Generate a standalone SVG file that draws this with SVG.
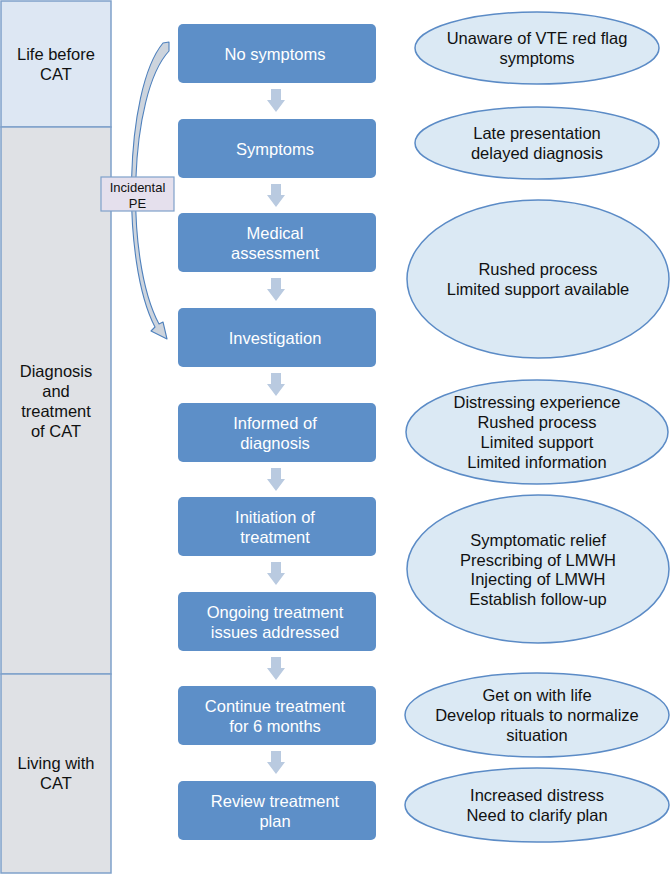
<svg xmlns="http://www.w3.org/2000/svg" width="672" height="879" viewBox="0 0 672 879">
<style>
.lane{stroke:#7fa1ca;stroke-width:1.5}
.lane1{fill:#dde7f3}
.lane2{fill:#dfe1e5}
.lt{font-family:"Liberation Sans",Arial,sans-serif;font-size:16.5px;fill:#111;text-anchor:middle}
.box{fill:#5d8fc8}
.bt{font-family:"Liberation Sans",Arial,sans-serif;font-size:16.5px;fill:#fff;text-anchor:middle}
.ell{fill:#dbe9f4;stroke:#5b8bc6;stroke-width:1.5}
.et{font-family:"Liberation Sans",Arial,sans-serif;font-size:16.5px;fill:#111;text-anchor:middle}
.blk{fill:#b9cae0}
.curve{fill:#cdd4dd;stroke:#4f81bd;stroke-width:1.1;stroke-linejoin:round}
.lbl{fill:#e5e0ed;stroke:#7fa1ca;stroke-width:1.2}
.lblt{font-family:"Liberation Sans",Arial,sans-serif;font-size:13px;fill:#111;text-anchor:middle}
</style>
<defs>
<path id="down" d="M -5,0 H 5 V 11 H 9 L 0,23 L -9,11 H -5 Z"/>
</defs>

<g id="lanes">
<g id="lane-life-before">
<rect class="lane lane1" x="1" y="1" width="110" height="126"/>
<text class="lt" x="56" y="60">Life before</text>
<text class="lt" x="56" y="80">CAT</text>
</g>
<g id="lane-diagnosis">
<rect class="lane lane2" x="1" y="127" width="110" height="547"/>
<text class="lt" x="56" y="377">Diagnosis</text>
<text class="lt" x="56" y="397">and</text>
<text class="lt" x="56" y="417">treatment</text>
<text class="lt" x="56" y="437">of CAT</text>
</g>
<g id="lane-living">
<rect class="lane lane2" x="1" y="674" width="110" height="199"/>
<text class="lt" x="56" y="769">Living with</text>
<text class="lt" x="56" y="789">CAT</text>
</g>
</g>

<g id="connectors">
<use href="#down" class="blk" x="276" y="89"/>
<use href="#down" class="blk" x="276" y="184"/>
<use href="#down" class="blk" x="276" y="278"/>
<use href="#down" class="blk" x="276" y="373"/>
<use href="#down" class="blk" x="276" y="468"/>
<use href="#down" class="blk" x="276" y="562"/>
<use href="#down" class="blk" x="276" y="657"/>
<use href="#down" class="blk" x="276" y="751"/>
<path class="curve" d="M 163,43 L 169,42 L 169,51 C 129,94 124,258 159,324 L 163,322 L 167,339 L 151,331 L 155,327 C 121,262 124,90 163,43 Z"/>
</g>

<g id="incidental-pe">
<rect class="lbl" x="101" y="177" width="73" height="34"/>
<text class="lblt" x="137.5" y="192">Incidental</text>
<text class="lblt" x="137.5" y="207.5">PE</text>
</g>

<g id="steps">
<g id="step-no-symptoms"><rect class="box" x="178" y="24" width="198" height="59" rx="5"/><text class="bt" x="275" y="59.5">No symptoms</text></g>
<g id="step-symptoms"><rect class="box" x="178" y="119" width="198" height="59" rx="5"/><text class="bt" x="275" y="154.5">Symptoms</text></g>
<g id="step-medical"><rect class="box" x="178" y="213" width="198" height="59" rx="5"/><text class="bt" x="275" y="238.5">Medical</text><text class="bt" x="275" y="258.5">assessment</text></g>
<g id="step-investigation"><rect class="box" x="178" y="308" width="198" height="59" rx="5"/><text class="bt" x="275" y="343.5">Investigation</text></g>
<g id="step-informed"><rect class="box" x="178" y="403" width="198" height="59" rx="5"/><text class="bt" x="275" y="428.5">Informed of</text><text class="bt" x="275" y="448.5">diagnosis</text></g>
<g id="step-initiation"><rect class="box" x="178" y="497" width="198" height="59" rx="5"/><text class="bt" x="275" y="522.5">Initiation of</text><text class="bt" x="275" y="542.5">treatment</text></g>
<g id="step-ongoing"><rect class="box" x="178" y="592" width="198" height="59" rx="5"/><text class="bt" x="275" y="617.5">Ongoing treatment</text><text class="bt" x="275" y="637.5">issues addressed</text></g>
<g id="step-continue"><rect class="box" x="178" y="686" width="198" height="59" rx="5"/><text class="bt" x="275" y="711.5">Continue treatment</text><text class="bt" x="275" y="731.5">for 6 months</text></g>
<g id="step-review"><rect class="box" x="178" y="781" width="198" height="59" rx="5"/><text class="bt" x="275" y="806.5">Review treatment</text><text class="bt" x="275" y="826.5">plan</text></g>
</g>

<g id="experiences">
<g id="exp-unaware"><ellipse class="ell" cx="537" cy="48" rx="122" ry="36"/><text class="et" x="537" y="44">Unaware of VTE red flag</text><text class="et" x="537" y="64">symptoms</text></g>
<g id="exp-late"><ellipse class="ell" cx="537" cy="143" rx="122" ry="36"/><text class="et" x="537" y="139">Late presentation</text><text class="et" x="537" y="159">delayed diagnosis</text></g>
<g id="exp-rushed"><ellipse class="ell" cx="538" cy="279" rx="131" ry="79"/><text class="et" x="538" y="275">Rushed process</text><text class="et" x="538" y="295">Limited support available</text></g>
<g id="exp-distressing"><ellipse class="ell" cx="537" cy="432" rx="131" ry="52"/><text class="et" x="537" y="408">Distressing experience</text><text class="et" x="537" y="428">Rushed process</text><text class="et" x="537" y="448">Limited support</text><text class="et" x="537" y="468">Limited information</text></g>
<g id="exp-symptomatic"><ellipse class="ell" cx="538" cy="569" rx="131" ry="74"/><text class="et" x="538" y="545.5">Symptomatic relief</text><text class="et" x="538" y="565.5">Prescribing of LMWH</text><text class="et" x="538" y="585">Injecting of LMWH</text><text class="et" x="538" y="604.5">Establish follow-up</text></g>
<g id="exp-getonwithlife"><ellipse class="ell" cx="537" cy="715" rx="132" ry="42"/><text class="et" x="537" y="701">Get on with life</text><text class="et" x="537" y="721">Develop rituals to normalize</text><text class="et" x="537" y="741">situation</text></g>
<g id="exp-increased"><ellipse class="ell" cx="537" cy="805" rx="132" ry="37"/><text class="et" x="537" y="801">Increased distress</text><text class="et" x="537" y="821">Need to clarify plan</text></g>
</g>
</svg>
